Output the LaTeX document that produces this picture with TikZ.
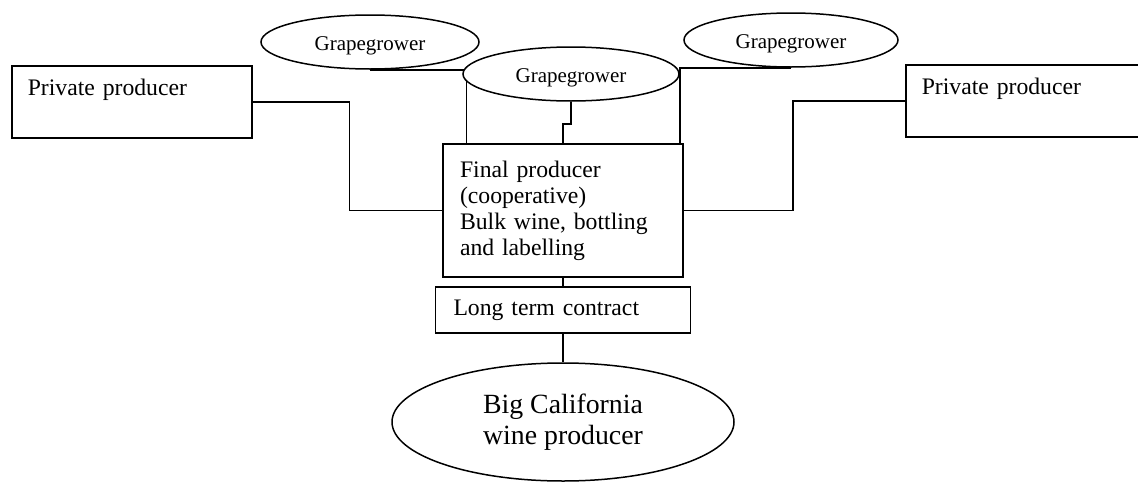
\documentclass[tikz,border=0pt]{standalone}
\usepackage{fontspec}
\setmainfont{Liberation Serif}
\usetikzlibrary{shapes.geometric,backgrounds}

\tikzset{
  box/.style={draw, rectangle, fill=white, line width=1.5pt, inner ysep=0pt},
  sidebox/.style={box, anchor=north west, inner xsep=16pt, text width=208pt,
    align=left, text height=30pt, text depth=42pt,
    font=\fontsize{23.7}{26}\selectfont},
  grower/.style={draw, ellipse, fill=white, line width=1.5pt, inner sep=0pt,
    minimum width=216pt, minimum height=54pt, text height=17pt, text depth=0pt,
    font=\fontsize{21}{24}\selectfont},
  link/.style={draw, line width=1.5pt},
}

\begin{document}
\begin{tikzpicture}[x=1pt, y=-1pt]
  \useasboundingbox (0,0) rectangle (1138,482);

  % independent producers on both sides
  \node[sidebox] (lp) at (11,65) {Private producer};
  \node[sidebox] (rp) at (905,64) {Private producer};

  % grape growers
  \node[grower, minimum width=218pt] (g1) at (370,42) {Grapegrower};
  \node[grower] (g2) at (571,74) {Grapegrower};
  \node[grower, minimum width=214pt] (g3) at (791,40) {Grapegrower};

  % cooperative and its contract
  \node[box, minimum width=240pt, minimum height=133pt, inner xsep=17pt,
        text width=206pt, align=left, font=\fontsize{23.7}{26}\selectfont]
        (fp) at (563,210.5)
        {Final producer\\(cooperative)\\Bulk wine, bottling\\and labelling};
  \node[box, minimum width=255pt, minimum height=46pt, inner xsep=18pt,
        text width=219pt, align=left, font=\fontsize{23.7}{26}\selectfont]
        (lt) at (563,310) {Long term contract};

  % final buyer
  \node[draw, ellipse, fill=white, line width=1.5pt, inner sep=0pt,
        minimum width=342pt, minimum height=118pt, align=center,
        font=\fontsize{27.8}{31}\selectfont]
        (big) at (563,422) {Big California\\wine producer};

  % connectors run underneath the shapes
  \begin{scope}[on background layer]
    \draw[link] (lp.east) -- ++(97,0) |- (fp.west);
    \draw[link] (rp.west) -- ++(-112,0) |- (fp.east);
    \draw[link] (g1.south) -| ([xshift=24pt]fp.north west);
    \draw[link] (g3.south) -| ([xshift=-4pt]fp.north east);
    \draw[link] (g2.south) -- ++(0,22) -| (fp.north);
    \draw[link] (fp.south) -- (lt.north);
    \draw[link] (lt.south) -- (big.north);
  \end{scope}
\end{tikzpicture}
\end{document}
